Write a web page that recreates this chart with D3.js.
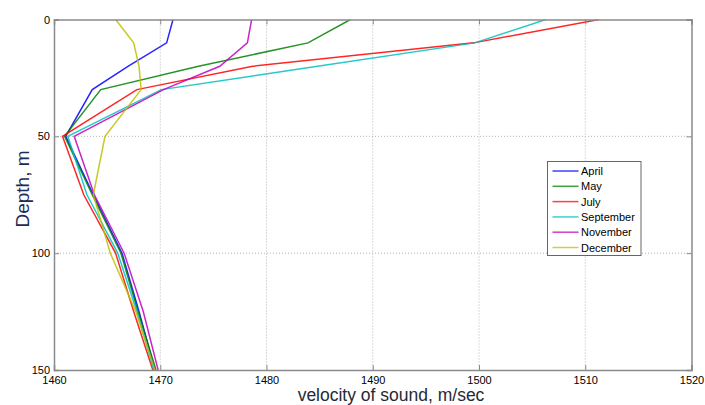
<!DOCTYPE html>
<html>
<head>
<meta charset="utf-8">
<script src="https://cdn.jsdelivr.net/npm/d3@7"></script>
<style>
  body { margin: 0; background: #fff; }
  text { font-family: Arial, "Liberation Sans", sans-serif; }
</style>
</head>
<body>
<svg id="chart" width="705" height="405"></svg>
<script>
// depth levels, m
const depths = [0, 10, 20, 30, 50, 75, 100, 125, 150]

// sound velocity per month, m/sec
const april     = [1471.2, 1470.6, 1467.0, 1463.6, 1461.1, 1463.7, 1466.4, 1468.0, 1469.5]
const may       = [1487.9, 1483.9, 1473.6, 1464.4, 1461.0, 1463.6, 1466.3, 1467.9, 1469.6]
const july      = [1511.3, 1499.5, 1478.7, 1467.8, 1460.8, 1462.8, 1465.8, 1467.5, 1469.3]
const september = [1506.3, 1499.6, 1484.8, 1470.1, 1461.3, 1463.1, 1466.0, 1467.8, 1469.4]
const november  = [1478.6, 1478.2, 1475.6, 1470.3, 1461.9, 1463.8, 1466.6, 1468.4, 1469.8]
const december  = [1465.8, 1467.5, 1468.0, 1468.2, 1464.8, 1463.7, 1465.3, 1467.7, 1469.5]

const months = ['April', 'May', 'July', 'September', 'November', 'December']
const monthValues = [april, may, july, september, november, december]
const colors = ['#0000ff', '#008000', '#ff0000', '#00bfbf', '#bf00bf', '#bfbf00']

const xTicks = [1460, 1470, 1480, 1490, 1500, 1510, 1520]
const yTicks = [0, 50, 100, 150]

const svg = d3.select('#chart')
const pLeft = 54, pRight = 691.5, pTop = 19.5, pBottom = 370

const xScale = d3.scaleLinear().domain([1460, 1520]).range([pLeft, pRight])
const yScale = d3.scaleLinear().domain([0, 150]).range([pTop, pBottom])

// grid
svg.append('g').selectAll('line')
    .data(xTicks.slice(1, -1))
    .join('line')
    .attr('x1', d => xScale(d)).attr('x2', d => xScale(d))
    .attr('y1', pTop).attr('y2', pBottom)
    .attr('stroke', '#b4b4b4').attr('stroke-dasharray', '1,2')
svg.append('g').selectAll('line')
    .data(yTicks.slice(1, -1))
    .join('line')
    .attr('x1', pLeft).attr('x2', pRight)
    .attr('y1', d => yScale(d)).attr('y2', d => yScale(d))
    .attr('stroke', '#b4b4b4').attr('stroke-dasharray', '1,2')

// lines
svg.append('clipPath').attr('id', 'clip')
    .append('rect').attr('x', pLeft).attr('y', pTop)
    .attr('width', pRight - pLeft).attr('height', pBottom - pTop)

const line = d3.line()
    .x(d => xScale(d[0]))
    .y(d => yScale(d[1]))

svg.append('g').attr('clip-path', 'url(#clip)')
    .selectAll('path')
    .data(monthValues)
    .join('path')
    .attr('d', vals => line(vals.map((v, i) => [v, depths[i]])))
    .attr('fill', 'none')
    .attr('stroke', (d, i) => colors[i])
    .attr('stroke-width', 1.5)
    .attr('stroke-opacity', 0.85)

// axes with inward ticks
const axisColor = '#8a8a8a'
const xAxis = svg.append('g').attr('transform', 'translate(0,' + pBottom + ')')
    .call(d3.axisBottom(xScale).tickValues(xTicks).tickSize(-5).tickPadding(6).tickFormat(d3.format('d')))
const xTop = svg.append('g').attr('transform', 'translate(0,' + pTop + ')')
    .call(d3.axisTop(xScale).tickValues(xTicks).tickSize(-5).tickFormat(''))
const yAxis = svg.append('g').attr('transform', 'translate(' + pLeft + ',0)')
    .call(d3.axisLeft(yScale).tickValues(yTicks).tickSize(-5).tickPadding(4))
const yRight = svg.append('g').attr('transform', 'translate(' + pRight + ',0)')
    .call(d3.axisRight(yScale).tickValues(yTicks).tickSize(-5).tickFormat(''))

for (let ax of [xAxis, xTop, yAxis, yRight]) {
    ax.select('.domain').attr('stroke', axisColor).attr('stroke-width', 1.5)
    ax.selectAll('.tick line').attr('stroke', axisColor)
    ax.selectAll('.tick text').attr('fill', '#000').style('font-size', '11px')
}

svg.append('text')
    .text('velocity of sound, m/sec')
    .attr('x', 391).attr('y', 400.5)
    .style('text-anchor', 'middle')
    .style('font-size', '17.5px')
    .attr('fill', '#262a33')

svg.append('text')
    .text('Depth, m')
    .style('text-anchor', 'middle')
    .style('font-size', '19px')
    .attr('fill', '#1d2b55')
    .attr('transform', 'translate(' + 29 + ',' + 189 + '), rotate(270)')

// legend
const legend = svg.append('g')
legend.append('rect')
    .attr('x', 547.5).attr('y', 161.5)
    .attr('width', 93.5).attr('height', 94)
    .attr('fill', '#fff').attr('stroke', '#666')

const rows = legend.selectAll('g.row')
    .data(months)
    .join('g').classed('row', true)
    .attr('transform', (d, i) => 'translate(0,' + (171 + i * 15.3) + ')')
rows.append('line')
    .attr('x1', 552.5).attr('x2', 578.5)
    .attr('stroke', (d, i) => colors[i]).attr('stroke-width', 1.5).attr('stroke-opacity', 0.75)
rows.append('text')
    .text(d => d)
    .attr('x', 581).attr('y', 4)
    .style('font-size', '11px').attr('fill', '#000')
</script>
</body>
</html>
